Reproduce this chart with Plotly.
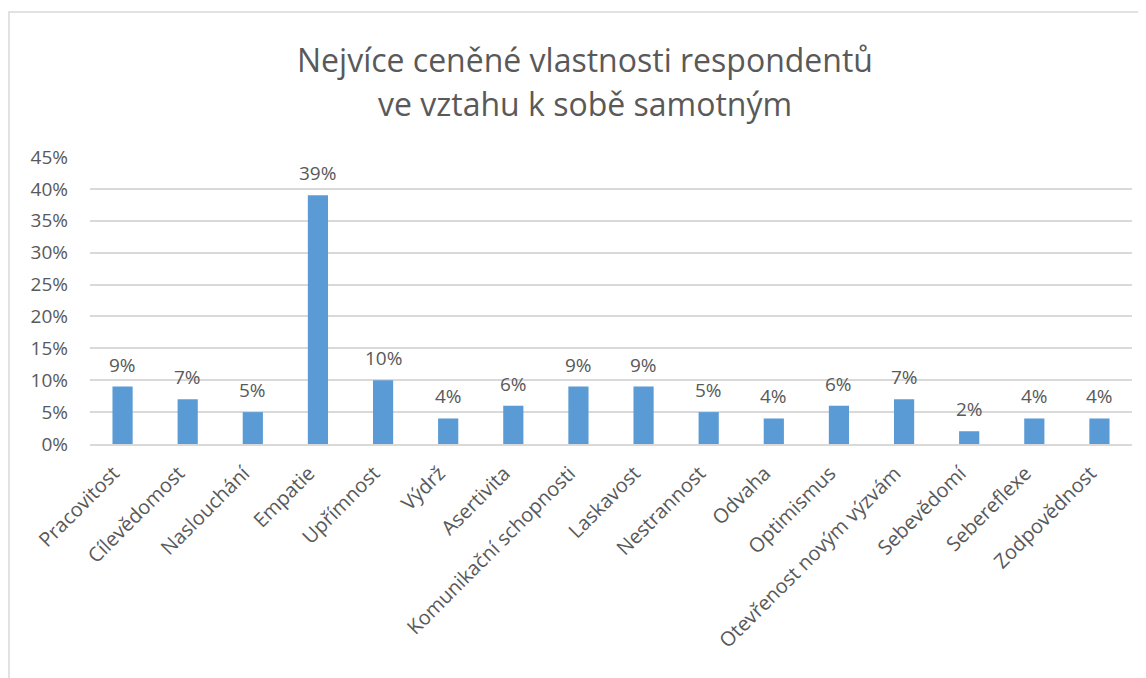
import plotly.graph_objects as go

categories = ["Pracovitost", "Cílevědomost", "Naslouchání", "Empatie", "Upřímnost", "Výdrž",
              "Asertivita", "Komunikační schopnosti", "Laskavost", "Nestrannost", "Odvaha",
              "Optimismus", "Otevřenost novým výzvám", "Sebevědomí", "Sebereflexe", "Zodpovědnost"]
values = [9, 7, 5, 39, 10, 4, 6, 9, 9, 5, 4, 6, 7, 2, 4, 4]
y_ticks = [0, 5, 10, 15, 20, 25, 30, 35, 40, 45]
y_tick_labels = [f"{v}%" for v in y_ticks]
title_lines = ["Nejvíce ceněné vlastnosti respondentů", "ve vztahu k sobě samotným"]

FONT = "Open Sans"
GREY = "#595959"

# page body has an 8px margin, so the figure is shifted by 8px
W, H = 1138, 670
L, R, T, B = 82, 14, 149, 234
PW = W - L - R
PH = H - T - B
TITLE_CX = 577  # title centre in figure pixels

fig = go.Figure()
fig.add_trace(go.Bar(
    x=categories, y=values,
    marker=dict(color="#5B9BD5", line=dict(width=0)),
    hoverinfo="skip",
))

for c, v in zip(categories, values):
    fig.add_annotation(x=c, y=v, text=f"{v}%", showarrow=False, yanchor="bottom",
                       yshift=7, font=dict(family=FONT, size=19, color=GREY))

for line, ypix in zip(title_lines, [52, 95]):
    fig.add_annotation(xref="paper", yref="paper", x=(TITLE_CX - L) / PW,
                       y=(H - B - ypix) / PH, text=line, showarrow=False,
                       xanchor="center", yanchor="middle",
                       font=dict(family=FONT, size=32, color=GREY))

fig.add_shape(type="rect", xref="paper", yref="paper",
              x0=(1 - L) / PW, x1=(1137 - L) / PW,
              y0=-2, y1=(H - B - 4) / PH,
              line=dict(color="#D9D9D9", width=1.5), layer="below")

fig.update_layout(
    width=W, height=H,
    margin=dict(l=L, r=R, t=T, b=B),
    paper_bgcolor="white", plot_bgcolor="white",
    bargap=0.69,
    showlegend=False,
    xaxis=dict(tickangle=-45, tickfont=dict(family=FONT, size=20, color=GREY),
               showline=True, linecolor="#D9D9D9", linewidth=1.5, ticks="",
               showgrid=False, ticklabelshift=-9, ticklabelstandoff=8),
    yaxis=dict(range=[0, 45], tickvals=y_ticks, ticktext=y_tick_labels,
               tickfont=dict(family=FONT, size=19, color=GREY),
               showgrid=True, gridcolor="#D9D9D9", gridwidth=1.5,
               zeroline=False, showline=False, ticks="", ticklen=0,
               ticklabelstandoff=21),
)

fig.write_html("out.html")
